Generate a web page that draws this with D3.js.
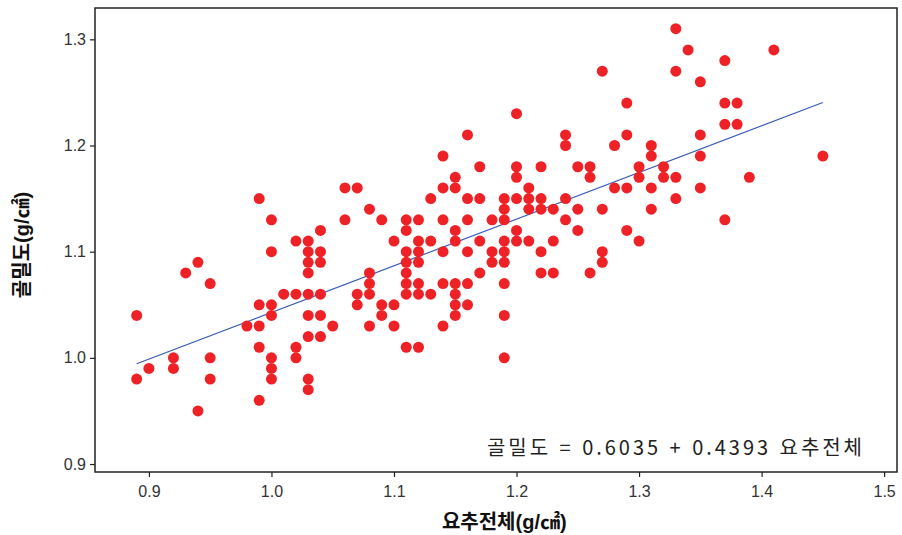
<!DOCTYPE html>
<html lang="ko">
  <head>
    <meta charset="UTF-8" />
    <title>골밀도 vs 요추전체</title>
    <style>
      body { margin: 0; background: #fff; }
      svg text { font-family: "Liberation Sans", "Noto Sans CJK KR", sans-serif; }
    </style>
  </head>
  <body>
    <div id="chart"></div>
    <script src="https://d3js.org/d3.v7.min.js"></script>
    <script>
      // x = 요추전체, y = 골밀도 (0.01 grid)
      var xVals = [
        0.89, 0.89,
        0.90,
        0.92, 0.92,
        0.93,
        0.94, 0.94,
        0.95, 0.95, 0.95,
        0.98,
        0.99, 0.99, 0.99, 0.99, 0.99,
        1.00, 1.00, 1.00, 1.00, 1.00, 1.00, 1.00,
        1.01,
        1.02, 1.02, 1.02, 1.02,
        1.03, 1.03, 1.03, 1.03, 1.03, 1.03, 1.03, 1.03, 1.03,
        1.04, 1.04, 1.04, 1.04, 1.04, 1.04,
        1.05,
        1.06, 1.06,
        1.07, 1.07, 1.07,
        1.08, 1.08, 1.08, 1.08, 1.08,
        1.09, 1.09, 1.09,
        1.10, 1.10, 1.10,
        1.11, 1.11, 1.11, 1.11, 1.11, 1.11, 1.11, 1.11,
        1.12, 1.12, 1.12, 1.12, 1.12, 1.12, 1.12,
        1.13, 1.13, 1.13,
        1.14, 1.14, 1.14, 1.14, 1.14, 1.14,
        1.15, 1.15, 1.15, 1.15, 1.15, 1.15, 1.15, 1.15,
        1.16, 1.16, 1.16, 1.16, 1.16, 1.16,
        1.17, 1.17, 1.17, 1.17,
        1.18, 1.18, 1.18,
        1.19, 1.19, 1.19, 1.19, 1.19, 1.19, 1.19, 1.19, 1.19,
        1.20, 1.20, 1.20, 1.20, 1.20, 1.20,
        1.21, 1.21, 1.21, 1.21,
        1.22, 1.22, 1.22, 1.22, 1.22,
        1.23, 1.23, 1.23,
        1.24, 1.24, 1.24, 1.24,
        1.25, 1.25, 1.25,
        1.26, 1.26, 1.26,
        1.27, 1.27, 1.27, 1.27,
        1.28, 1.28,
        1.29, 1.29, 1.29, 1.29,
        1.30, 1.30, 1.30,
        1.31, 1.31, 1.31, 1.31,
        1.32, 1.32,
        1.33, 1.33, 1.33, 1.33,
        1.34,
        1.35, 1.35, 1.35, 1.35,
        1.37, 1.37, 1.37, 1.37,
        1.38, 1.38,
        1.39,
        1.41,
        1.45
      ];
      var yVals = [
        1.04, 0.98,
        0.99,
        1.00, 0.99,
        1.08,
        1.09, 0.95,
        1.07, 1.00, 0.98,
        1.03,
        1.15, 1.05, 1.03, 1.01, 0.96,
        1.13, 1.10, 1.05, 1.04, 1.00, 0.99, 0.98,
        1.06,
        1.11, 1.06, 1.01, 1.00,
        1.11, 1.10, 1.09, 1.08, 1.06, 1.04, 1.02, 0.98, 0.97,
        1.12, 1.10, 1.09, 1.06, 1.04, 1.02,
        1.03,
        1.16, 1.13,
        1.16, 1.06, 1.05,
        1.14, 1.08, 1.07, 1.06, 1.03,
        1.13, 1.05, 1.04,
        1.11, 1.05, 1.03,
        1.13, 1.12, 1.10, 1.09, 1.08, 1.07, 1.06, 1.01,
        1.13, 1.11, 1.10, 1.09, 1.07, 1.06, 1.01,
        1.15, 1.11, 1.06,
        1.19, 1.16, 1.13, 1.10, 1.07, 1.03,
        1.17, 1.16, 1.12, 1.11, 1.07, 1.06, 1.05, 1.04,
        1.21, 1.15, 1.13, 1.10, 1.07, 1.05,
        1.18, 1.15, 1.11, 1.08,
        1.13, 1.10, 1.09,
        1.15, 1.14, 1.13, 1.11, 1.10, 1.09, 1.07, 1.04, 1.00,
        1.23, 1.18, 1.17, 1.15, 1.12, 1.11,
        1.16, 1.15, 1.14, 1.11,
        1.18, 1.15, 1.14, 1.10, 1.08,
        1.14, 1.11, 1.08,
        1.21, 1.20, 1.15, 1.13,
        1.18, 1.14, 1.12,
        1.18, 1.17, 1.08,
        1.27, 1.14, 1.10, 1.09,
        1.20, 1.16,
        1.24, 1.21, 1.16, 1.12,
        1.18, 1.17, 1.11,
        1.20, 1.19, 1.16, 1.14,
        1.18, 1.17,
        1.31, 1.27, 1.17, 1.15,
        1.29,
        1.26, 1.21, 1.19, 1.16,
        1.28, 1.24, 1.22, 1.13,
        1.24, 1.22,
        1.17,
        1.29,
        1.19
      ];

      var xTicks = [0.9, 1.0, 1.1, 1.2, 1.3, 1.4, 1.5];
      var yTicks = [0.9, 1.0, 1.1, 1.2, 1.3];

      // fitted line: 골밀도 = 0.6035 + 0.4393 요추전체
      var intercept = 0.6035,
        slope = 0.4393;

      var W = 902,
        H = 535;
      var margin = { top: 8, right: 5, bottom: 63, left: 95 },
        width = W - margin.left - margin.right,
        height = H - margin.top - margin.bottom;

      var svg = d3
        .select("#chart")
        .append("svg")
        .attr("width", W)
        .attr("height", H);

      var g = svg
        .append("g")
        .attr("transform", "translate(" + margin.left + "," + margin.top + ")");

      var x = d3.scaleLinear().domain([0.856, 1.5105]).range([0, width]);
      var y = d3.scaleLinear().domain([0.8925, 1.3295]).range([height, 0]);

      // axes
      var xAxis = g
        .append("g")
        .attr("transform", "translate(0," + height + ")")
        .call(
          d3
            .axisBottom(x)
            .tickValues(xTicks)
            .tickFormat(d3.format(".1f"))
            .tickSize(5)
            .tickSizeOuter(0)
        );
      var yAxis = g.append("g").call(
        d3
          .axisLeft(y)
          .tickValues(yTicks)
          .tickFormat(d3.format(".1f"))
          .tickSize(5)
          .tickSizeOuter(0)
      );
      [xAxis, yAxis].forEach(function (a) {
        a.select(".domain").remove();
        a.selectAll("line").attr("stroke", "#222").attr("stroke-width", 1.2);
        a.selectAll("text")
          .attr("fill", "#333")
          .style("font-size", "16px");
      });
      xAxis.selectAll("text").attr("dy", "1.05em");
      yAxis.selectAll("text").attr("x", -9);

      // frame
      g.append("rect")
        .attr("x", 0)
        .attr("y", 0)
        .attr("width", width)
        .attr("height", height)
        .attr("fill", "none")
        .attr("stroke", "#222")
        .attr("stroke-width", 1.5);

      // regression line over the data range
      var xMin = d3.min(xVals),
        xMax = d3.max(xVals);
      g.append("line")
        .attr("x1", x(xMin))
        .attr("y1", y(intercept + slope * xMin))
        .attr("x2", x(xMax))
        .attr("y2", y(intercept + slope * xMax))
        .attr("stroke", "#3a5bb8")
        .attr("stroke-width", 1.2);

      // points
      g.selectAll("circle")
        .data(xVals)
        .enter()
        .append("circle")
        .attr("cx", function (d) {
          return x(d);
        })
        .attr("cy", function (d, i) {
          return y(yVals[i]);
        })
        .attr("r", 5.5)
        .attr("fill", "#ee2226");

      // equation label, sized to the width it has in the original
      var eq = g
        .append("text")
        .attr("x", 487 - margin.left)
        .attr("y", 455 - margin.top)
        .attr("fill", "#222")
        .style("font-family", '"Noto Sans CJK KR", sans-serif')
        .style("font-size", "18px")
        .text("골밀도 =  0.6035 + 0.4393 요추전체");
      var eqLen = eq.node().getComputedTextLength();
      var fs = Math.min(20, (18 * 375) / eqLen);
      eq.style("font-size", fs + "px");
      eqLen = eq.node().getComputedTextLength();
      if (eqLen < 370) {
        eq.attr("textLength", 375).attr("lengthAdjust", "spacing");
      }

      // axis titles
      svg
        .append("text")
        .attr("x", margin.left + x(1.19))
        .attr("y", 529)
        .attr("text-anchor", "middle")
        .attr("fill", "#111")
        .style("font-size", "20px")
        .style("font-weight", "bold")
        .text("요추전체(g/㎠)");

      svg
        .append("text")
        .attr("transform", "translate(29,245) rotate(-90)")
        .attr("text-anchor", "middle")
        .attr("fill", "#111")
        .style("font-size", "20px")
        .style("font-weight", "bold")
        .text("골밀도(g/㎠)");
    </script>
  </body>
</html>
